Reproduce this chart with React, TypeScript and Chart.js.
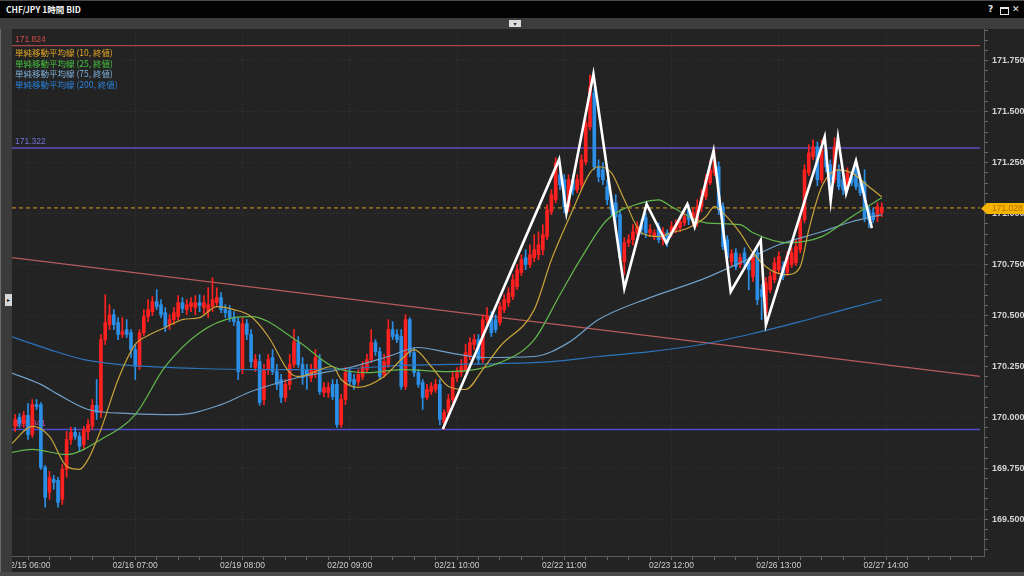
import React, { useEffect, useRef } from 'react';
import { Chart, registerables } from 'chart.js';

Chart.register(...registerables);

// ---------- candle data (hourly, index 0 = 02/15 06:00) ----------
const FIRST_CANDLE = -3;

const OPEN = [
  169.956,170.000,169.970,170.010,169.916,170.063,170.063,169.755,169.632,169.696,
  169.691,169.598,169.745,169.892,169.926,169.907,169.867,169.931,169.956,170.059,
  170.024,170.382,170.455,170.504,170.465,170.407,170.431,170.416,170.333,170.250,
  170.416,170.495,170.519,170.568,170.553,170.514,170.455,170.480,170.495,170.563,
  170.529,170.544,170.539,170.563,170.539,170.519,170.544,170.563,170.588,170.529,
  170.524,170.490,170.470,170.235,170.460,170.407,170.245,170.274,170.088,170.235,
  170.294,170.225,170.186,170.098,170.162,170.260,170.367,170.260,170.235,170.196,
  170.220,170.284,170.122,170.122,170.162,170.162,169.965,170.088,170.220,170.186,
  170.176,170.201,170.235,170.284,170.367,170.323,170.211,170.260,170.431,170.407,
  170.397,170.152,170.480,170.318,170.220,170.171,170.098,170.127,170.137,170.162,
  169.975,170.024,170.088,170.196,170.220,170.235,170.299,170.358,170.382,170.284,
  170.480,170.495,170.480,170.465,170.529,170.563,170.593,170.642,170.711,170.784,
  170.750,170.784,170.798,170.823,170.887,171.009,171.068,171.191,171.166,171.034,
  171.166,171.117,171.142,171.254,171.426,171.592,171.230,171.215,171.132,171.068,
  171.053,170.995,170.764,170.857,170.872,170.906,170.946,170.980,170.906,170.887,
  170.936,170.872,170.906,170.906,170.921,170.931,170.955,171.019,170.970,170.970,
  171.034,171.083,171.151,171.200,171.230,171.034,170.872,170.764,170.808,170.750,
  170.808,170.759,170.691,170.808,170.627,170.514,170.627,170.676,170.725,170.740,
  170.711,170.750,170.759,170.823,170.970,171.200,171.279,171.328,171.166,171.313,
  171.240,171.166,171.215,171.166,171.132,171.181,171.215,171.151,171.156,171.019,
  171.004,170.985,171.004,
];

const HIGH = [
  170.014,170.019,170.029,170.068,170.088,170.088,170.073,169.765,169.735,169.716,
  169.706,169.769,169.931,169.951,169.951,169.926,169.956,169.990,170.088,170.186,
  170.407,170.602,170.553,170.529,170.490,170.490,170.480,170.431,170.358,170.431,
  170.529,170.578,170.593,170.627,170.578,170.539,170.504,170.539,170.598,170.588,
  170.578,170.588,170.598,170.602,170.598,170.637,170.686,170.637,170.612,170.553,
  170.549,170.519,170.490,170.490,170.480,170.431,170.309,170.309,170.260,170.309,
  170.333,170.260,170.211,170.186,170.309,170.431,170.397,170.294,170.260,170.260,
  170.333,170.309,170.171,170.171,170.186,170.186,170.113,170.245,170.245,170.211,
  170.235,170.274,170.309,170.431,170.382,170.343,170.309,170.480,170.470,170.431,
  170.431,170.504,170.490,170.343,170.235,170.186,170.162,170.171,170.186,170.186,
  170.039,170.113,170.225,170.245,170.284,170.358,170.392,170.407,170.407,170.504,
  170.539,170.519,170.504,170.563,170.602,170.637,170.701,170.750,170.798,170.823,
  170.847,170.897,170.911,170.946,171.044,171.117,171.274,171.240,171.191,171.191,
  171.191,171.191,171.289,171.470,171.681,171.617,171.264,171.250,171.166,171.093,
  171.093,171.019,170.882,170.897,170.946,170.960,170.970,171.004,170.946,170.921,
  170.955,170.931,170.921,170.960,170.970,170.980,171.019,171.044,171.029,171.068,
  171.117,171.191,171.264,171.313,171.254,171.053,170.892,170.823,170.828,170.803,
  170.833,170.784,170.813,170.833,170.652,170.686,170.715,170.784,170.813,170.764,
  170.813,170.833,170.872,170.995,171.240,171.338,171.362,171.352,171.362,171.338,
  171.264,171.372,171.240,171.191,171.225,171.205,171.264,171.176,171.215,171.034,
  171.029,171.053,171.053,
];

const LOW = [
  169.931,169.951,169.951,169.892,169.902,170.039,169.745,169.559,169.598,169.647,
  169.559,169.573,169.706,169.867,169.892,169.833,169.843,169.892,169.941,169.990,
  170.000,170.358,170.431,170.431,170.382,170.392,170.392,170.294,170.186,170.235,
  170.402,170.470,170.500,170.529,170.490,170.421,170.431,170.455,170.480,170.514,
  170.504,170.519,170.504,170.519,170.509,170.490,170.519,170.549,170.514,170.490,
  170.470,170.451,170.186,170.215,170.382,170.245,170.225,170.059,170.063,170.211,
  170.211,170.137,170.073,170.078,170.137,170.245,170.245,170.162,170.137,170.176,
  170.196,170.113,170.102,170.098,170.088,169.951,169.951,170.063,170.157,170.137,
  170.157,170.186,170.225,170.269,170.304,170.186,170.196,170.245,170.382,170.367,
  170.137,170.137,170.299,170.201,170.147,170.039,170.088,170.113,170.122,169.965,
  169.941,170.000,170.073,170.176,170.201,170.225,170.284,170.333,170.260,170.269,
  170.455,170.397,170.416,170.451,170.514,170.544,170.578,170.627,170.696,170.725,
  170.735,170.764,170.774,170.798,170.872,170.995,171.053,171.117,171.004,171.009,
  171.093,171.103,171.117,171.240,171.411,171.215,171.156,171.142,171.044,170.995,
  170.921,170.764,170.701,170.838,170.847,170.892,170.897,170.882,170.887,170.872,
  170.857,170.847,170.838,170.887,170.906,170.911,170.941,170.946,170.946,170.936,
  171.009,171.068,171.142,171.186,170.995,170.823,170.764,170.745,170.725,170.735,
  170.740,170.627,170.666,170.553,170.480,170.490,170.612,170.661,170.711,170.676,
  170.696,170.735,170.745,170.808,170.955,171.186,171.264,171.137,171.151,171.205,
  171.068,171.151,171.117,171.093,171.117,171.137,171.117,171.088,170.960,170.931,
  170.955,170.960,170.985,
];

const CLOSE = [
  169.990,169.970,170.010,169.916,170.063,170.053,169.755,169.608,169.706,169.681,
  169.583,169.745,169.892,169.926,169.907,169.858,169.941,169.965,170.059,170.024,
  170.382,170.465,170.504,170.455,170.407,170.421,170.407,170.333,170.250,170.416,
  170.495,170.529,170.568,170.544,170.504,170.446,170.480,170.514,170.563,170.534,
  170.553,170.563,170.563,170.549,170.563,170.553,170.578,170.588,170.529,170.514,
  170.490,170.470,170.225,170.460,170.407,170.274,170.284,170.073,170.235,170.284,
  170.225,170.162,170.098,170.162,170.260,170.372,170.260,170.196,170.206,170.235,
  170.294,170.127,170.147,170.147,170.102,169.965,170.088,170.220,170.176,170.162,
  170.211,170.250,170.284,170.367,170.323,170.201,170.274,170.431,170.397,170.382,
  170.152,170.480,170.318,170.220,170.162,170.098,170.137,170.152,170.162,169.990,
  170.024,170.088,170.196,170.220,170.250,170.318,170.367,170.382,170.284,170.480,
  170.495,170.416,170.431,170.544,170.578,170.612,170.676,170.725,170.774,170.750,
  170.798,170.823,170.847,170.897,171.019,171.093,171.249,171.142,171.034,171.166,
  171.117,171.166,171.264,171.445,171.622,171.230,171.181,171.166,171.068,171.019,
  170.985,170.784,170.857,170.872,170.911,170.936,170.921,170.906,170.921,170.906,
  170.872,170.906,170.857,170.936,170.946,170.960,170.985,170.970,171.004,171.034,
  171.083,171.166,171.215,171.264,171.019,170.838,170.784,170.803,170.740,170.784,
  170.759,170.725,170.789,170.578,170.593,170.661,170.691,170.759,170.789,170.691,
  170.789,170.808,170.838,170.970,171.215,171.298,171.328,171.166,171.313,171.230,
  171.166,171.328,171.132,171.117,171.200,171.151,171.132,171.102,170.980,170.970,
  170.970,171.034,171.028,
];

// ---------- moving averages (sampled along the candles) ----------
const MA10_IDX = [-4,1,5,9,12,14,17,21,25,28,32,36,40,44,48,52,56,61,63,71,73,77,83,87,90,94,98,102,106,110,118,122,127,131,133,136,139,143,147,150,154,158,160,162,166,169,173,177,180,182,185,189,192,196,199];
const MA10_VAL = [169.867,169.956,169.907,169.760,169.745,169.794,169.941,170.186,170.358,170.402,170.441,170.480,170.490,170.544,170.529,170.495,170.397,170.220,170.201,170.250,170.186,170.147,170.201,170.284,170.333,170.250,170.152,170.137,170.235,170.348,170.529,170.774,171.019,171.200,171.230,171.200,171.068,170.906,170.887,170.906,170.931,170.985,171.034,171.004,170.906,170.808,170.725,170.701,170.740,170.921,171.132,171.215,171.200,171.132,171.083];

const MA25_IDX = [-4,1,9,17,25,32,40,48,52,63,71,79,87,98,110,118,124,129,135,143,147,150,158,166,169,177,185,192,199];
const MA25_VAL = [169.828,169.843,169.818,169.892,170.014,170.250,170.416,170.490,170.495,170.372,170.250,170.220,170.235,170.225,170.269,170.382,170.602,170.784,170.970,171.053,171.068,171.034,170.955,170.946,170.906,170.857,170.887,170.985,171.078];

const MA75_IDX = [-4,3,7,14,24,35,45,52,63,75,84,91,98,106,118,126,133,145,157,166,175,185,192,199];
const MA75_VAL = [170.220,170.162,170.113,170.039,170.019,170.014,170.063,170.127,170.196,170.245,170.299,170.343,170.318,170.294,170.299,170.367,170.480,170.588,170.676,170.759,170.847,170.911,170.960,170.995];

const MA200_IDX = [-4,5,13,24,40,52,63,75,87,98,110,122,133,145,157,168,180,192,199];
const MA200_VAL = [170.397,170.333,170.284,170.255,170.240,170.235,170.235,170.240,170.255,170.260,170.264,170.274,170.299,170.323,170.358,170.407,170.470,170.539,170.578];

// ---------- drawn objects ----------
const ZIGZAG_IDX = [96.7,123.8,125.5,131.8,139,144.2,148.8,153.7,155.4,159.8,163.8,170.8,172,185.7,187.1,188.8,190.7,193,196.7];
const ZIGZAG_VAL = [169.943,171.266,171.003,171.685,170.633,171.047,170.856,171.047,170.936,171.309,170.617,170.870,170.453,171.377,171.062,171.374,171.100,171.260,170.929];

const TREND_IDX = [-3.73, 221.9];
const TREND_VAL = [170.784, 170.201];

const LEVELS = [171.824, 171.322, 169.941];
const LEVEL_LABELS = ['171.824', '171.322', '169.941'];
const LEVEL_LINE_COLORS = ['#a94547', '#5a4fc0', '#4d4cc6'];
const LEVEL_TEXT_COLORS = ['#d24a4a', '#7472da', '#c24c9c'];
const CURRENT_PRICE = 171.028;
const CURRENT_LABEL = '171.028';

// ---------- axes ----------
const X_TICK_LABELS = ['02/15 06:00', '02/16 07:00', '02/19 08:00', '02/20 09:00', '02/21 10:00', '02/22 11:00', '02/23 12:00', '02/26 13:00', '02/27 14:00'];
const X_LABEL_EVERY = 25;
const X_MINOR_STEP = 5;
const X_MIN = -3.73;
const X_MAX = 222.84;
const LINE_END = 221.9;
const Y_MIN = 169.32;
const Y_MAX = 171.906;
const Y_MAJOR = 0.25;
const Y_MINOR = 0.05;

const UP = '#ff2020';
const DOWN = '#2b8fe8';
const BG = '#232323';

const LEGEND = [
  { text: '単純移動平均線 (10, 終値)', color: '#e2a524' },
  { text: '単純移動平均線 (25, 終値)', color: '#46c23e' },
  { text: '単純移動平均線 (75, 終値)', color: '#7eaed8' },
  { text: '単純移動平均線 (200, 終値)', color: '#2a82dc' },
];

const isMajorY = (v: number) => Math.abs(v / Y_MAJOR - Math.round(v / Y_MAJOR)) < 1e-6;
const isMajorX = (v: number) => Math.abs(v / X_LABEL_EVERY - Math.round(v / X_LABEL_EVERY)) < 1e-6;

const overlayPlugin = {
  id: 'priceOverlay',
  beforeDatasetsDraw(chart: any) {
    const { ctx, chartArea, scales } = chart;
    ctx.save();
    ctx.font = '8.5px "Liberation Sans", sans-serif';
    ctx.textAlign = 'left';
    ctx.textBaseline = 'bottom';
    LEVELS.forEach((lv, k) => {
      ctx.fillStyle = LEVEL_TEXT_COLORS[k];
      ctx.fillText(LEVEL_LABELS[k], chartArea.left + 3, scales.y.getPixelForValue(lv) - 2);
    });
    ctx.restore();
  },
  afterDatasetsDraw(chart: any) {
    const { ctx, chartArea, scales, width } = chart;
    const yy = Math.round(scales.y.getPixelForValue(CURRENT_PRICE)) + 0.5;
    const x0 = chartArea.right - 3;
    ctx.save();
    ctx.fillStyle = '#f6b400';
    ctx.beginPath();
    ctx.moveTo(x0, yy);
    ctx.lineTo(x0 + 6, yy - 5.5);
    ctx.lineTo(width, yy - 5.5);
    ctx.lineTo(width, yy + 5.5);
    ctx.lineTo(x0 + 6, yy + 5.5);
    ctx.closePath();
    ctx.fill();
    ctx.fillStyle = '#b86f00';
    ctx.font = '8.5px "Liberation Sans", sans-serif';
    ctx.textAlign = 'left';
    ctx.textBaseline = 'middle';
    ctx.fillText(CURRENT_LABEL, x0 + 11, yy + 0.5);
    ctx.restore();
  },
};

export default function App() {
  const ref = useRef<HTMLCanvasElement>(null);

  useEffect(() => {
    document.body.style.margin = '0';
    document.body.style.background = BG;
    const canvas = ref.current;
    if (!canvas) return;

    const bodies = OPEN.map((o, k) => ({ x: FIRST_CANDLE + k, y: [o, CLOSE[k]] }));
    const wicks = LOW.map((l, k) => ({ x: FIRST_CANDLE + k, y: [l, HIGH[k]] }));
    const colors = OPEN.map((o, k) => (CLOSE[k] >= o ? UP : DOWN));
    const pts = (xs: number[], ys: number[]) => xs.map((x, k) => ({ x, y: ys[k] }));
    const flat = (v: number) => [{ x: X_MIN, y: v }, { x: LINE_END, y: v }];

    const maLine = (xs: number[], ys: number[], color: string, order: number) => ({
      type: 'line',
      data: pts(xs, ys),
      borderColor: color,
      borderWidth: 1.2,
      pointRadius: 0,
      cubicInterpolationMode: 'monotone',
      order,
    });

    const chart = new Chart(canvas, {
      type: 'bar',
      data: {
        datasets: [
          {
            type: 'line',
            data: pts(ZIGZAG_IDX, ZIGZAG_VAL),
            borderColor: '#ffffff',
            borderWidth: 2.6,
            pointRadius: 0,
            tension: 0,
            borderJoinStyle: 'miter',
            order: 0,
          },
          maLine(MA10_IDX, MA10_VAL, '#c9a43a', 1),
          maLine(MA25_IDX, MA25_VAL, '#62b84e', 1),
          maLine(MA75_IDX, MA75_VAL, '#6f9fc6', 1),
          maLine(MA200_IDX, MA200_VAL, '#2c74bb', 1),
          {
            type: 'bar',
            data: bodies,
            backgroundColor: colors,
            borderWidth: 0,
            barThickness: 3,
            minBarLength: 1,
            grouped: false,
            order: 2,
          },
          {
            type: 'bar',
            data: wicks,
            backgroundColor: colors,
            borderWidth: 0,
            barThickness: 1,
            minBarLength: 1,
            grouped: false,
            order: 3,
          },
          {
            type: 'line',
            data: flat(CURRENT_PRICE),
            borderColor: '#d6a21e',
            borderWidth: 1,
            borderDash: [4, 3],
            pointRadius: 0,
            order: 4,
          },
          ...LEVELS.map((lv, k) => ({
            type: 'line',
            data: flat(lv),
            borderColor: LEVEL_LINE_COLORS[k],
            borderWidth: k === 0 ? 1.2 : 1.4,
            pointRadius: 0,
            order: 5,
          })),
          {
            type: 'line',
            data: pts(TREND_IDX, TREND_VAL),
            borderColor: '#b65b5b',
            borderWidth: 1.2,
            pointRadius: 0,
            order: 5,
          },
        ],
      } as any,
      options: {
        responsive: false,
        animation: false,
        devicePixelRatio: 1,
        events: [],
        layout: { padding: 0 },
        plugins: { legend: { display: false }, tooltip: { enabled: false } },
        scales: {
          x: {
            type: 'linear',
            min: X_MIN,
            max: X_MAX,
            offset: false,
            grid: {
              offset: false,
              color: (c: any) => (c.tick && isMajorX(c.tick.value) ? 'rgba(255,255,255,0.07)' : 'rgba(0,0,0,0)'),
              tickColor: '#6a6a6a',
              tickLength: 4,
            },
            border: { color: '#5c5c5c', dash: [1, 2] },
            ticks: {
              stepSize: X_MINOR_STEP,
              includeBounds: false,
              autoSkip: false,
              maxRotation: 0,
              minRotation: 0,
              padding: 1,
              color: '#cfcfcf',
              font: { size: 8.5, family: '"Liberation Sans", sans-serif' },
              callback: (v: any) => {
                const n = Number(v);
                if (!isMajorX(n)) return '';
                const k = Math.round(n / X_LABEL_EVERY);
                return X_TICK_LABELS[k] ?? '';
              },
            },
            afterFit: (s: any) => {
              s.height = 20;
              s.paddingLeft = 0;
              s.paddingRight = 0;
            },
          },
          y: {
            type: 'linear',
            position: 'right',
            min: Y_MIN,
            max: Y_MAX,
            grid: {
              color: (c: any) => (c.tick && isMajorY(c.tick.value) ? 'rgba(255,255,255,0.07)' : 'rgba(0,0,0,0)'),
              tickColor: '#6a6a6a',
              tickLength: 4,
            },
            border: { color: '#5c5c5c', dash: [1, 2] },
            ticks: {
              stepSize: Y_MINOR,
              includeBounds: false,
              autoSkip: false,
              padding: 4,
              color: '#d4d4d4',
              font: { size: 9, family: '"Liberation Sans", sans-serif', weight: 'bold' },
              callback: (v: any) => (isMajorY(Number(v)) ? Number(v).toFixed(3) : ''),
            },
            afterFit: (s: any) => {
              s.width = 40;
              s.paddingTop = 0;
              s.paddingBottom = 0;
            },
          },
        },
      } as any,
      plugins: [overlayPlugin],
    });
    return () => chart.destroy();
  }, []);

  return (
    <div style={{ position: 'relative', width: 1024, height: 576, background: BG, overflow: 'hidden' }}>
      {/* title bar */}
      <div
        style={{
          position: 'absolute', left: 0, top: 0, width: 1024, height: 18, background: '#030303',
          borderTop: '1px solid #4a4a4a', boxSizing: 'border-box',
        }}
      >
        <span
          style={{
            position: 'absolute', left: 6, top: 2, font: 'bold 8.5px "Noto Sans CJK JP", sans-serif',
            color: '#f2f2f2', lineHeight: '13px', whiteSpace: 'nowrap',
          }}
        >
          CHF/JPY 1時間 BID
        </span>
        <span style={{ position: 'absolute', left: 988, top: 2, font: 'bold 9px "DejaVu Sans", sans-serif', color: '#e8e8e8', lineHeight: '13px' }}>?</span>
        <span style={{ position: 'absolute', left: 1000, top: 6, width: 7, height: 5, border: '1px solid #e8e8e8', borderTopWidth: 2 }} />
        <span style={{ position: 'absolute', left: 1012, top: 2, font: 'bold 9px "DejaVu Sans", sans-serif', color: '#e8e8e8', lineHeight: '13px' }}>✕</span>
      </div>
      {/* toolbar */}
      <div style={{ position: 'absolute', left: 0, top: 18, width: 1024, height: 11, background: '#3d3d3d' }}>
        <div
          style={{
            position: 'absolute', left: 509, top: 2, width: 12, height: 7, background: '#dcdcdc',
            font: '6px "DejaVu Sans", sans-serif', color: '#222', textAlign: 'center', lineHeight: '7px',
          }}
        >
          ▾
        </div>
      </div>
      {/* left strip */}
      <div style={{ position: 'absolute', left: 0, top: 29, width: 12, height: 547, background: '#3b3b3b', borderLeft: '1px solid #6a6a6a', boxSizing: 'border-box' }}>
        <div
          style={{
            position: 'absolute', left: 4, top: 265, width: 7, height: 12, background: '#d8d8d8',
            font: '6px "DejaVu Sans", sans-serif', color: '#111', textAlign: 'center', lineHeight: '12px',
          }}
        >
          ▸
        </div>
      </div>
      {/* chart */}
      <canvas ref={ref} width={1012} height={547} style={{ position: 'absolute', left: 12, top: 29 }} />
      {/* legend */}
      <div style={{ position: 'absolute', left: 15, top: 47, pointerEvents: 'none' }}>
        {LEGEND.map((l) => (
          <div
            key={l.text}
            style={{ font: '8.5px "Noto Sans CJK JP", sans-serif', lineHeight: '10.5px', color: l.color, whiteSpace: 'nowrap' }}
          >
            {l.text}
          </div>
        ))}
      </div>
      {/* bottom frame */}
      <div style={{ position: 'absolute', left: 0, top: 572, width: 1024, height: 4, background: '#4a4a4a' }} />
    </div>
  );
}
